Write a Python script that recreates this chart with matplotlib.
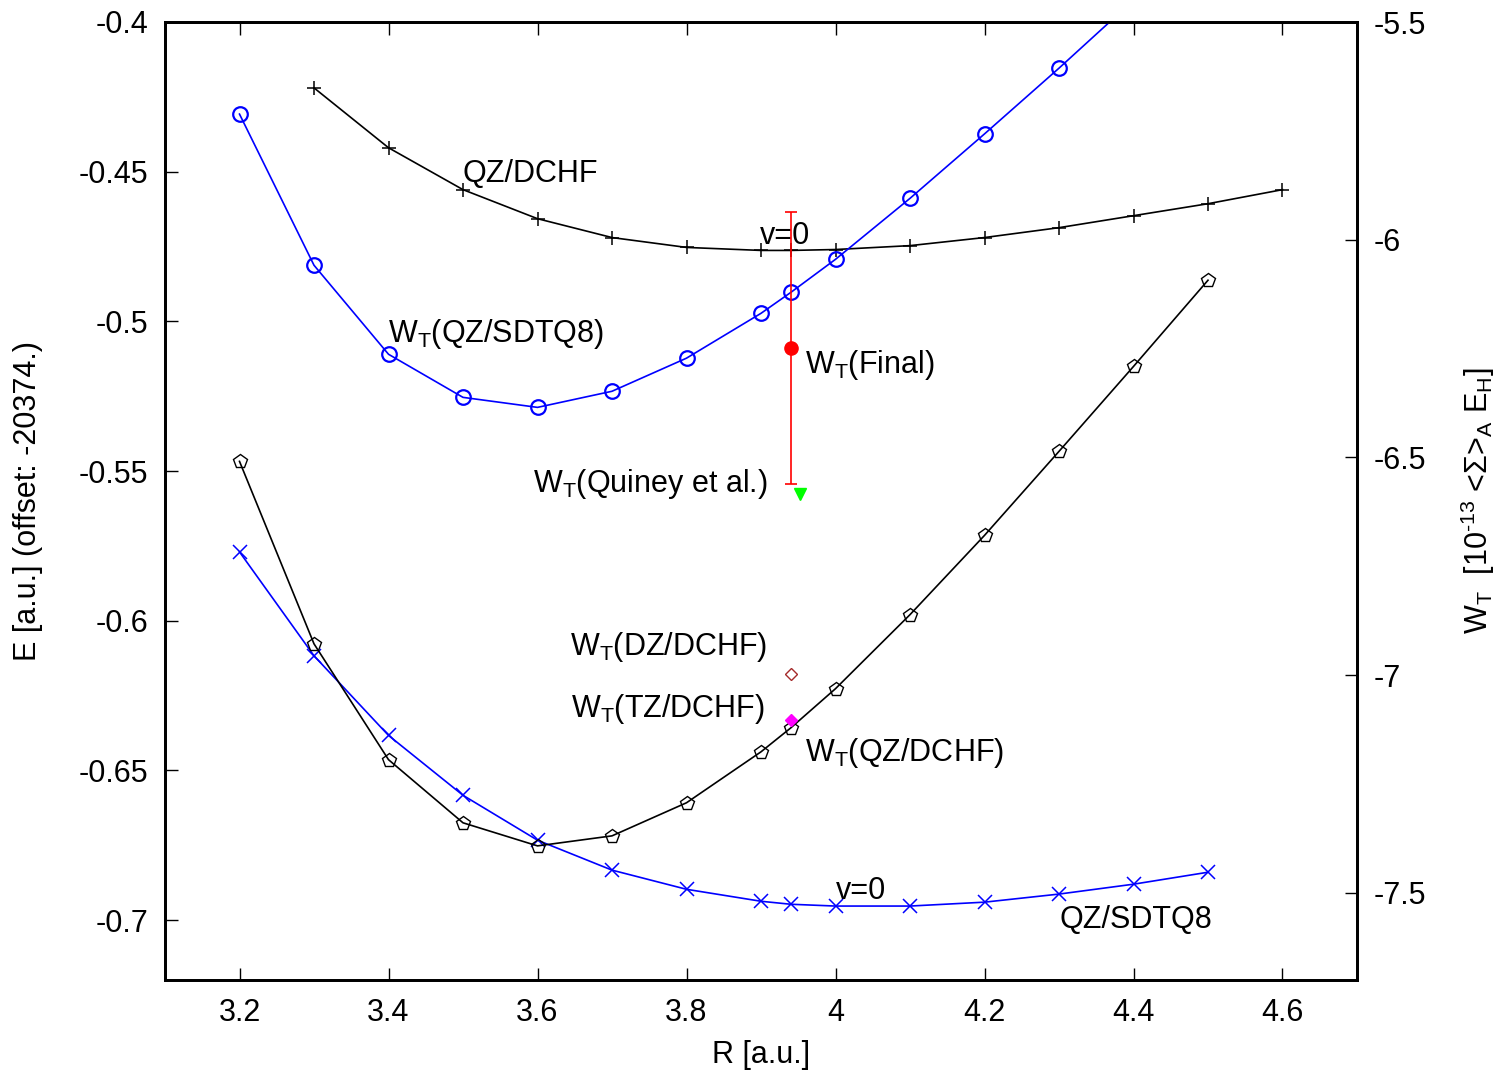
import matplotlib
matplotlib.use("Agg")
import matplotlib.pyplot as plt
import numpy as np

plt.rcParams['font.family'] = ['Liberation Sans', 'DejaVu Sans']
plt.rcParams['mathtext.fontset'] = 'custom'
plt.rcParams['mathtext.rm'] = 'Liberation Sans'
plt.rcParams['mathtext.it'] = 'Liberation Sans'

# --- data (left axis: E, right axis: W_T) ---
r_dchf = [3.3, 3.4, 3.5, 3.6, 3.7, 3.8, 3.9, 3.94, 4.0, 4.1, 4.2, 4.3, 4.4, 4.5, 4.6]
e_dchf = [-0.422, -0.442, -0.456, -0.4657, -0.472, -0.4753, -0.4763, -0.4763, -0.476,
          -0.4747, -0.472, -0.4687, -0.4647, -0.4607, -0.456]

r_sdtq8 = [3.2, 3.3, 3.4, 3.5, 3.6, 3.7, 3.8, 3.9, 3.94, 4.0, 4.1, 4.2, 4.3, 4.4, 4.5]
e_sdtq8 = [-0.577, -0.6117, -0.6383, -0.6583, -0.6733, -0.6833, -0.6897, -0.6937,
           -0.6947, -0.6953, -0.6953, -0.694, -0.6913, -0.688, -0.684]

r_wt_sdtq8 = [3.2, 3.3, 3.4, 3.5, 3.6, 3.7, 3.8, 3.9, 3.94, 4.0, 4.1, 4.2, 4.3, 4.4]
wt_sdtq8 = [-5.7115, -6.0586, -6.263, -6.362, -6.385, -6.348, -6.272, -6.169,
            -6.121, -6.045, -5.905, -5.757, -5.606, -5.45]

r_wt_dchf = [3.2, 3.3, 3.4, 3.5, 3.6, 3.7, 3.8, 3.9, 3.94, 4.0, 4.1, 4.2, 4.3, 4.4, 4.5]
wt_dchf = [-6.509, -6.928, -7.194, -7.339, -7.392, -7.369, -7.293, -7.176, -7.121,
           -7.031, -6.861, -6.679, -6.486, -6.291, -6.093]

# single points at r = 3.94 (v=0 average)
r_final, wt_final, wt_final_lo, wt_final_hi = 3.94, -6.249, -6.562, -5.937
r_quiney, wt_quiney = 3.952, -6.583
r_dz, wt_dz = 3.94, -6.997
r_tz, wt_tz = 3.94, -7.102

fig = plt.figure(figsize=(15.05, 10.74), dpi=100)
ax = fig.add_axes([165/1505, 1-980/1074, (1357-165)/1505, (980-22)/1074])
ax2 = ax.twinx()

# left axis curves
ax.plot(r_dchf, e_dchf, color='black', lw=1.2, marker='+', ms=10, mew=1.1)
ax.plot(r_sdtq8, e_sdtq8, color='#0000ff', lw=1.2, marker='x', ms=10, mew=1.1)

# right axis curves
ax2.plot(r_wt_sdtq8, wt_sdtq8, color='#0000ff', lw=1.2, marker='o', ms=10.5,
         mfc='none', mew=1.6)
ax2.plot(r_wt_dchf, wt_dchf, color='black', lw=1.2, marker='p', ms=10,
         mfc='none', mew=1.0)
ax2.errorbar([r_final], [wt_final],
             yerr=[[wt_final - wt_final_lo], [wt_final_hi - wt_final]],
             color='#ff0000', lw=1.2, capsize=4, capthick=1.2,
             marker='o', ms=9.5)
ax2.plot([r_quiney], [wt_quiney], marker='v', color='#00ff00', ms=8, ls='none')
ax2.plot([r_dz], [wt_dz], marker='D', color='#a52a2a', mfc='none', ms=6, mew=1.0, ls='none')
ax2.plot([r_tz], [wt_tz], marker='D', color='#ff00ff', ms=6.5, ls='none')

ax.set_xlim(3.1, 4.7)
ax.set_ylim(-0.72, -0.4)
ax2.set_ylim(-7.7, -5.5)

xt = [3.2, 3.4, 3.6, 3.8, 4.0, 4.2, 4.4, 4.6]
ax.set_xticks(xt)
ax.set_xticklabels(['3.2', '3.4', '3.6', '3.8', '4', '4.2', '4.4', '4.6'])
yt = [-0.7, -0.65, -0.6, -0.55, -0.5, -0.45, -0.4]
ax.set_yticks(yt)
ax.set_yticklabels(['-0.7', '-0.65', '-0.6', '-0.55', '-0.5', '-0.45', '-0.4'])
y2t = [-7.5, -7, -6.5, -6, -5.5]
ax2.set_yticks(y2t)
ax2.set_yticklabels(['-7.5', '-7', '-6.5', '-6', '-5.5'])

fs = 22
ax.tick_params(axis='x', direction='in', length=9, width=1, labelsize=fs, pad=13,
               top=True)
ax.tick_params(axis='y', direction='in', length=9, width=1, labelsize=fs, pad=12,
               right=False)
ax2.tick_params(axis='y', direction='in', length=9, width=1, labelsize=fs, pad=12)
for a in (ax, ax2):
    for s in a.spines.values():
        s.set_linewidth(2.0)

ax.text(3.499, -0.4533, 'QZ/DCHF', fontsize=fs)
ax.text(3.898, -0.4743, 'v=0', fontsize=fs)
ax.text(3.3987, -0.507, r'W$_\mathrm{T}$(QZ/SDTQ8)', fontsize=fs)
ax.text(3.9597, -0.5173, r'W$_\mathrm{T}$(Final)', fontsize=fs)
ax.text(3.9087, -0.5569, r'W$_\mathrm{T}$(Quiney et al.)', fontsize=fs, ha='right')
ax.text(3.9087, -0.6116, r'W$_\mathrm{T}$(DZ/DCHF)', fontsize=fs, ha='right')
ax.text(3.9047, -0.632, r'W$_\mathrm{T}$(TZ/DCHF)', fontsize=fs, ha='right')
ax.text(3.9597, -0.647, r'W$_\mathrm{T}$(QZ/DCHF)', fontsize=fs)
ax.text(4.0, -0.693, 'v=0', fontsize=fs)
ax.text(4.3007, -0.7027, 'QZ/SDTQ8', fontsize=fs)

fig.text(761/1505, 1-1055/1074, 'R [a.u.]', fontsize=fs, ha='center', va='center')
fig.text(28/1505, 1-501/1074, 'E [a.u.] (offset: -20374.)', fontsize=fs,
         ha='center', va='center', rotation=90)
fig.text(1478/1505, 1-501/1074,
         r'W$_\mathrm{T}$  [10$^{\text{-13}}$ <$\Sigma$>$_\mathrm{A}$ E$_\mathrm{H}$]',
         fontsize=fs, ha='center', va='center', rotation=90)

fig.savefig('out.png', dpi=100)
